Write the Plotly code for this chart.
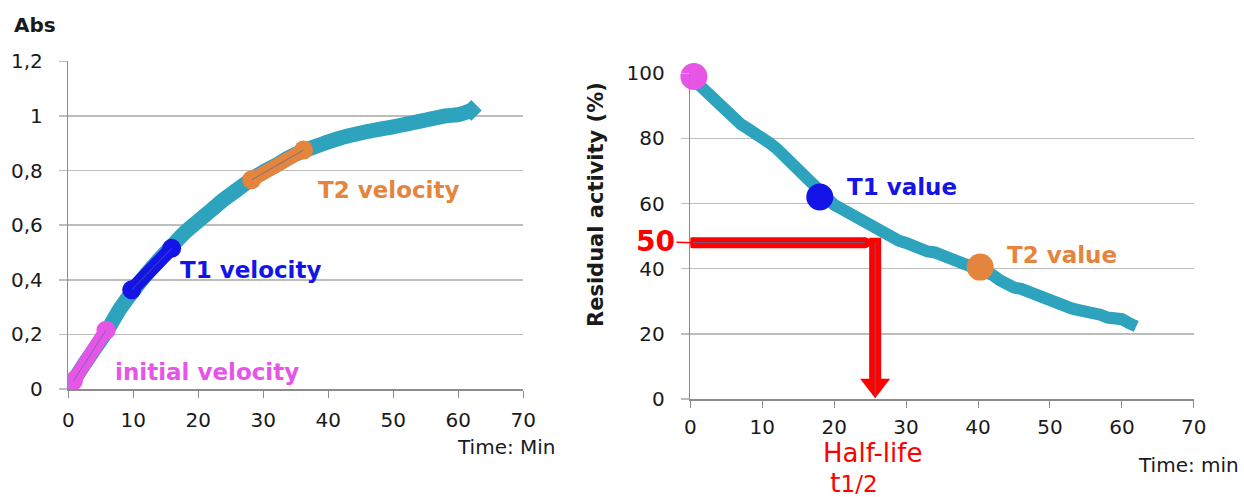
import plotly.graph_objects as go

W, H = 1244, 497

# ---------------- data: left chart (absorbance vs time) ----------------
abs_time = [0, 2, 4, 6, 8, 10, 12, 14, 16, 18, 20, 22, 24, 26, 28, 30, 32, 34, 36, 38,
            40, 42, 44, 46, 48, 50, 52, 54, 56, 58, 60, 62]
abs_vals = [0.0, 0.075, 0.145, 0.215, 0.295, 0.36, 0.42, 0.475, 0.525, 0.575, 0.615,
            0.655, 0.695, 0.73, 0.765, 0.795, 0.82, 0.848, 0.87, 0.888, 0.905, 0.92,
            0.932, 0.943, 0.952, 0.96, 0.97, 0.98, 0.99, 1.0, 1.005, 1.02]

init_vel_x = [0.8, 5.8]
init_vel_y = [0.03, 0.215]
t1_vel_x = [9.75, 15.9]
t1_vel_y = [0.363, 0.515]
t2_vel_x = [28.2, 36.2]
t2_vel_y = [0.766, 0.875]

left_xticks = [0, 10, 20, 30, 40, 50, 60, 70]
left_yticks = [0, 0.2, 0.4, 0.6, 0.8, 1.0, 1.2]
left_yticktext = ["0", "0,2", "0,4", "0,6", "0,8", "1", "1,2"]

# ---------------- data: right chart (residual activity vs time) ----------------
res_time = list(range(0, 63))
res_vals = [99.0, 96.8, 94.6, 92.7, 90.3, 88.6, 86.9, 84.4, 83.0, 81.8,
            80.1, 78.6, 76.9, 74.6, 72.3, 70.2, 68.1, 65.6, 63.3, 61.0,
            59.6, 58.4, 57.1, 55.6, 54.3, 53.0, 51.6, 50.4, 49.5, 48.6,
            47.9, 46.8, 45.6, 45.3, 45.0, 44.1, 43.2, 42.5, 41.7, 41.0,
            40.2, 39.3, 38.1, 36.5, 34.9, 34.2, 33.8, 32.9, 32.1, 31.1,
            30.0, 29.0, 28.2, 27.8, 27.3, 26.8, 27.0, 25.9, 25.0, 24.8,
            24.5, 23.3, 22.3]

init_value = (0.5, 99)
t1_value = (18, 62)
t2_value = (40.3, 40.5)

half_level = 48
half_life = 25.7
h_bar_x = [0.3, 24.3]

right_xticks = [0, 10, 20, 30, 40, 50, 60, 70]
right_yticks = [0, 20, 40, 60, 80, 100]

# ---------------- styles ----------------
TEAL = "#2EA3BE"
PINK = "#E655E6"
BLUE = "#1414E6"
ORANGE = "#E5843C"
RED = "#FF0000"
GRID = "#BDBDBD"
AXIS = "#8C8C8C"
TXT = "#1a1a1a"
FONT = "DejaVu Sans"


def px(x, y):
    """window pixel -> paper fraction"""
    return x / W, 1 - y / H


def dom_x(a, b):
    return [px(a, 0)[0], px(b, 0)[0]]


def dom_y(bottom, top):
    return [px(0, bottom)[1], px(0, top)[1]]


fig = go.Figure()

# left teal curve
fig.add_trace(go.Scatter(x=abs_time, y=abs_vals, mode="lines",
                         line=dict(color=TEAL, width=15, shape="spline"),
                         xaxis="x", yaxis="y", hoverinfo="skip"))
fig.add_trace(go.Scatter(x=[abs_time[-1]], y=[abs_vals[-1]], mode="markers",
                         marker=dict(color=TEAL, size=16, symbol="diamond"),
                         xaxis="x", yaxis="y", hoverinfo="skip"))

for sx, sy, col in [(init_vel_x, init_vel_y, PINK), (t1_vel_x, t1_vel_y, BLUE),
                    (t2_vel_x, t2_vel_y, ORANGE)]:
    fig.add_trace(go.Scatter(x=sx, y=sy, mode="lines+markers",
                             line=dict(color=col, width=14),
                             marker=dict(color=col, size=19, symbol="circle"),
                             xaxis="x", yaxis="y", hoverinfo="skip"))
    fig.add_trace(go.Scatter(x=sx, y=sy, mode="lines",
                             line=dict(color="rgba(70,110,160,0.7)", width=1),
                             xaxis="x", yaxis="y", hoverinfo="skip"))

# right teal curve
fig.add_trace(go.Scatter(x=res_time, y=res_vals, mode="lines",
                         line=dict(color=TEAL, width=12),
                         xaxis="x2", yaxis="y2", hoverinfo="skip"))

# red half-life bars
fig.add_trace(go.Scatter(x=h_bar_x, y=[half_level, half_level], mode="lines+markers",
                         line=dict(color=RED, width=11),
                         marker=dict(color=RED, size=11),
                         xaxis="x2", yaxis="y2", hoverinfo="skip"))
fig.add_trace(go.Scatter(x=h_bar_x, y=[half_level, half_level], mode="lines",
                         line=dict(color="rgba(70,110,160,0.8)", width=1),
                         xaxis="x2", yaxis="y2", hoverinfo="skip"))
fig.add_trace(go.Scatter(x=[half_life, half_life], y=[half_level + 1.5, 4.5], mode="lines",
                         line=dict(color=RED, width=12),
                         xaxis="x2", yaxis="y2", hoverinfo="skip"))
fig.add_trace(go.Scatter(x=[half_life], y=[4.2], mode="markers",
                         marker=dict(color=RED, size=26, symbol="triangle-down"),
                         xaxis="x2", yaxis="y2", hoverinfo="skip"))
fig.add_trace(go.Scatter(x=[half_life, half_life], y=[half_level, 1], mode="lines",
                         line=dict(color="rgba(70,110,160,0.8)", width=1),
                         xaxis="x2", yaxis="y2", hoverinfo="skip"))

# value circles
for (vx, vy), col in [(init_value, PINK), (t1_value, BLUE), (t2_value, ORANGE)]:
    fig.add_trace(go.Scatter(x=[vx], y=[vy], mode="markers",
                             marker=dict(color=col, size=27),
                             cliponaxis=False,
                             xaxis="x2", yaxis="y2", hoverinfo="skip"))

tickfont = dict(family=FONT, size=20, color=TXT)

fig.update_layout(
    width=W, height=H,
    margin=dict(l=0, r=0, t=0, b=0, pad=0),
    paper_bgcolor="white", plot_bgcolor="white",
    showlegend=False,
    xaxis=dict(domain=dom_x(68.3, 523.3), range=[0, 70], tickvals=left_xticks,
               ticks="outside", ticklen=7, tickcolor=AXIS, tickwidth=1,
               showline=True, linecolor=AXIS, linewidth=1.5, showgrid=False,
               zeroline=False, tickfont=tickfont, ticklabelstandoff=5,
               anchor="y", fixedrange=True, automargin=False),
    yaxis=dict(domain=dom_y(389, 61.3), range=[0, 1.2],
               tickvals=left_yticks, ticktext=left_yticktext,
               ticks="outside", ticklen=8, tickcolor=GRID, tickwidth=1.5,
               showline=True, linecolor=AXIS, linewidth=1.5,
               showgrid=True, gridcolor=GRID, gridwidth=1.5,
               zeroline=False, tickfont=tickfont, ticklabelstandoff=12,
               anchor="x", fixedrange=True, automargin=False),
    xaxis2=dict(domain=dom_x(690.3, 1193.8), range=[0, 70], tickvals=right_xticks,
                ticks="outside", ticklen=7, tickcolor=AXIS, tickwidth=1,
                showline=True, linecolor=AXIS, linewidth=1.5, showgrid=False,
                zeroline=False, tickfont=tickfont, ticklabelstandoff=2,
                anchor="y2", fixedrange=True, automargin=False),
    yaxis2=dict(domain=dom_y(399, 73.3), range=[0, 100],
                tickvals=right_yticks,
                ticks="outside", ticklen=8, tickcolor=GRID, tickwidth=1.5,
                showline=True, linecolor=AXIS, linewidth=1.5,
                showgrid=True, gridcolor=GRID, gridwidth=1.5,
                zeroline=False, tickfont=tickfont, ticklabelstandoff=12,
                anchor="x2", fixedrange=True, automargin=False),
)

ann = []


def label(text, x, y, color, size=23, xref="paper", yref="paper", xanchor="left",
          yanchor="middle", bold=True, textangle=0):
    ann.append(dict(text=("<b>%s</b>" % text) if bold else text, x=x, y=y,
                    xref=xref, yref=yref, xanchor=xanchor, yanchor=yanchor,
                    showarrow=False, textangle=textangle,
                    font=dict(family=FONT, size=size, color=color)))


# left chart labels
label("initial velocity", 6.9, 0.062, PINK, xref="x", yref="y")
label("T1 velocity", 16.9, 0.436, BLUE, xref="x", yref="y")
label("T2 velocity", 38.1, 0.729, ORANGE, xref="x", yref="y")
x0, y0 = px(12, 25)
label("Abs", x0, y0, TXT, size=20)
x0, y0 = px(558, 447)
label("Time: Min", x0, y0, TXT, size=20, xanchor="right", bold=False)

# right chart labels
label("initial value", 3.7, 106.4, PINK, xref="x2", yref="y2")
label("T1 value", 21.5, 65.0, BLUE, xref="x2", yref="y2")
label("T2 value", 43.7, 44.2, ORANGE, xref="x2", yref="y2")
x0, y0 = px(596, 205)
label("Residual activity (%)", x0, y0, TXT, size=21, xanchor="center", textangle=-90)
x0, y0 = px(1241, 465)
label("Time: min", x0, y0, TXT, size=20, xanchor="right", bold=False)
x0, y0 = px(872, 453)
label("Half-life", x0, y0, RED, size=26, xanchor="center", bold=False)
x0, y0 = px(854, 482)
label("t<span style='font-size:23px'>1/2</span>", x0, y0, RED, size=27,
      xanchor="center", bold=False)

# "50" marker with thin connector
ann.append(dict(text="<b>50</b>", x=h_bar_x[0], y=half_level, xref="x2", yref="y2",
                ax=-37, ay=-1, showarrow=True, arrowhead=0, arrowwidth=1.5,
                arrowcolor=RED, standoff=0,
                font=dict(family=FONT, size=28, color=RED)))

fig.update_layout(annotations=ann)

fig.write_html(
    "out.html",
    config={"displayModeBar": False, "staticPlot": True},
    post_script="document.body.style.margin='0';document.body.style.overflow='hidden';",
)
